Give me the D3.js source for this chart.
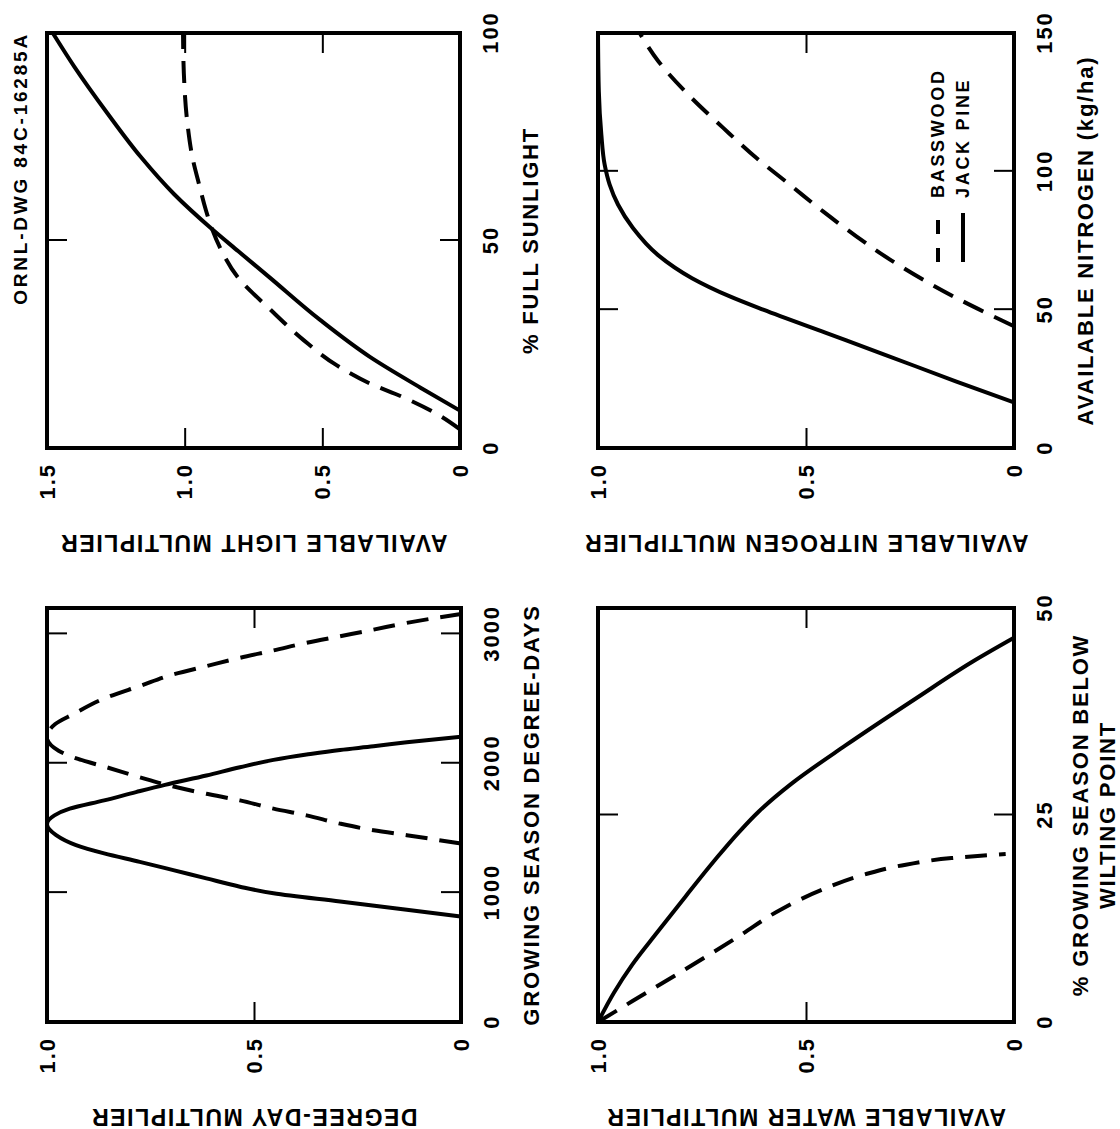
<!DOCTYPE html>
<html>
<head>
<meta charset="utf-8">
<script src="https://cdn.jsdelivr.net/npm/d3@7"></script>
<style>
  body { margin: 0; background: #fff; }
  svg text { font-family: "Liberation Sans", Arial, sans-serif; font-weight: bold; fill: #000; }
</style>
</head>
<body>
<svg id="chart" width="1120" height="1129"></svg>
<script>
// ---- data: [x, multiplier] ----

const lightJackPine = [[9.0,0],[14.6,0.145],[21.9,0.326],[30.8,0.507],[41.3,0.695],[47.4,0.805],[52.7,0.9],
  [61.2,1.039],[70.1,1.159],[80.6,1.28],[91.9,1.401],[100,1.479]];
const lightBasswood = [[4.5,0],[8.2,0.084],[12.2,0.205],[15.5,0.326],[19.9,0.447],[26.0,0.568],[33.3,0.688],
  [41.3,0.809],[47.4,0.865],[52.7,0.9],[57.1,0.922],[63.6,0.948],[70.1,0.972],[78.2,0.99],[90.3,1.003],[100,1.006]];

const nitrogenJackPine = [[16.5,0],[24.1,0.14],[33.7,0.31],[41.6,0.452],[50.0,0.603],[54.8,0.683],[61.4,0.774],
  [69.9,0.857],[79.5,0.916],[88.0,0.952],[95.2,0.972],[102.4,0.984],[113.3,0.992],[128.9,0.998],[150,1.0]];
const nitrogenBasswood = [[44.0,0],[48.2,0.058],[54.2,0.138],[60.8,0.218],[68.1,0.298],[76.5,0.379],[85.5,0.459],
  [95.2,0.539],[104.8,0.619],[115.7,0.699],[127.1,0.779],[139.8,0.855],[150,0.9]];

const degreeDayJackPine = [[815,0],[867,0.131],[931,0.292],[995,0.453],[1046,0.534],[1110,0.615],[1174,0.695],
  [1238,0.776],[1303,0.862],[1367,0.93],[1444,0.978],[1528,1.0],[1597,0.982],[1649,0.945],[1713,0.862],
  [1777,0.785],[1833,0.715],[1905,0.615],[1969,0.534],[2026,0.453],[2067,0.373],[2103,0.292],[2131,0.211],
  [2162,0.131],[2205,0]];
const degreeDayBasswood = [[1379,0],[1444,0.131],[1482,0.211],[1533,0.292],[1597,0.373],[1649,0.453],[1713,0.534],
  [1764,0.615],[1833,0.711],[1892,0.776],[1969,0.856],[2033,0.925],[2097,0.972],[2200,1.0],[2303,0.98],
  [2379,0.937],[2508,0.856],[2597,0.776],[2687,0.695],[2751,0.615],[2815,0.534],[2872,0.453],[2931,0.373],
  [2982,0.292],[3033,0.211],[3085,0.131],[3154,0]];

const waterJackPine = [[0,1.0],[3.6,0.961],[6.9,0.918],[10.8,0.858],[15.2,0.789],[19.5,0.72],[23.0,0.66],
  [25.4,0.614],[28.7,0.537],[33.4,0.405],[39.1,0.235],[43.5,0.1],[46.4,0]];
const waterBasswood = [[0,1.0],[2.5,0.918],[6.4,0.789],[10.4,0.66],[13.6,0.56],[16.0,0.46],[17.8,0.36],
  [19.0,0.26],[19.8,0.15],[20.3,0.02]];

const legendLabels = ["BASSWOOD", "JACK PINE"];
const drawingNumber = "ORNL-DWG 84C-16285A";

// ---- layout ----

const svg = d3.select("#chart");
const PAGE_H = 1129;

// the whole drawing is printed a quarter turn round: its x axes run up the page
const fig = svg.append("g").attr("transform", `translate(0,${PAGE_H}) rotate(-90)`);

const fmtY = d => d === 0 ? "0" : d3.format(".1f")(d);

const panels = [
  { left: 47, right: 460, top: 33, bottom: 448,
    xDomain: [0, 100], xTicks: [0, 50, 100], yDomain: [0, 1.5], yTicks: [0, 0.5, 1, 1.5],
    xTitle: ["% FULL SUNLIGHT"], xTitleAt: [70], yTitle: "AVAILABLE LIGHT MULTIPLIER",
    basswood: lightBasswood, jackPine: lightJackPine },
  { left: 598, right: 1014, top: 33, bottom: 448, legend: true,
    xDomain: [0, 150], xTicks: [0, 50, 100, 150], yDomain: [0, 1], yTicks: [0, 0.5, 1],
    xTitle: ["AVAILABLE NITROGEN (kg/ha)"], xTitleAt: [71], yTitle: "AVAILABLE NITROGEN MULTIPLIER",
    basswood: nitrogenBasswood, jackPine: nitrogenJackPine },
  { left: 47, right: 461, top: 608, bottom: 1022,
    xDomain: [0, 3200], xTicks: [0, 1000, 2000, 3000], yDomain: [0, 1], yTicks: [0, 0.5, 1],
    xTitle: ["GROWING SEASON DEGREE-DAYS"], xTitleAt: [70], yTitle: "DEGREE-DAY MULTIPLIER",
    basswood: degreeDayBasswood, jackPine: degreeDayJackPine },
  { left: 598, right: 1014, top: 608, bottom: 1022,
    xDomain: [0, 50], xTicks: [0, 25, 50], yDomain: [0, 1], yTicks: [0, 0.5, 1],
    xTitle: ["% GROWING SEASON BELOW", "WILTING POINT"], xTitleAt: [66, 93], yTitle: "AVAILABLE WATER MULTIPLIER",
    basswood: waterBasswood, jackPine: waterJackPine }
];

panels.forEach(drawPanel);

function drawPanel(p) {
  const W = p.bottom - p.top;
  const H = p.right - p.left;
  const g = fig.append("g").attr("transform", `translate(${PAGE_H - p.bottom},${p.left})`);

  const x = d3.scaleLinear().domain(p.xDomain).range([0, W]);
  const y = d3.scaleLinear().domain(p.yDomain).range([H, 0]);

  // ticks point inward on all four sides
  g.append("g").attr("transform", `translate(0,${H})`)
    .call(d3.axisBottom(x).tickValues(p.xTicks).tickSize(-20).tickPadding(22).tickFormat(d3.format("d")));
  g.append("g")
    .call(d3.axisTop(x).tickValues(p.xTicks).tickSize(-20).tickFormat(""));
  g.append("g")
    .call(d3.axisLeft(y).tickValues(p.yTicks).tickSize(-20).tickPadding(15).tickFormat(fmtY));
  g.append("g").attr("transform", `translate(${W},0)`)
    .call(d3.axisRight(y).tickValues(p.yTicks).tickSize(-20).tickFormat(""));

  g.selectAll(".domain").remove();
  g.selectAll(".tick line").attr("stroke", "#000").attr("stroke-width", 2);
  g.selectAll(".tick text")
    .attr("font-size", 22)
    .style("letter-spacing", "2px");

  g.append("rect")
    .attr("width", W).attr("height", H)
    .attr("fill", "none").attr("stroke", "#000").attr("stroke-width", 4);

  const line = d3.line()
    .x(d => x(d[0]))
    .y(d => y(d[1]))
    .curve(d3.curveMonotoneX);

  g.append("path")
    .datum(p.jackPine)
    .attr("d", line)
    .attr("fill", "none").attr("stroke", "#000").attr("stroke-width", 4);

  g.append("path")
    .datum(p.basswood)
    .attr("d", line)
    .attr("fill", "none").attr("stroke", "#000").attr("stroke-width", 4)
    .attr("stroke-dasharray", "22,12");

  // axis titles
  p.xTitle.forEach((t, i) => {
    g.append("text")
      .attr("x", W / 2).attr("y", H + p.xTitleAt[i])
      .attr("dy", "0.36em")
      .attr("text-anchor", "middle")
      .attr("font-size", 22)
      .style("letter-spacing", "1.8px")
      .text(t);
  });

  g.append("text")
    .attr("transform", `translate(-95,${H / 2}) rotate(-90)`)
    .attr("dy", "0.36em")
    .attr("text-anchor", "middle")
    .attr("font-size", 23)
    .style("letter-spacing", "1.6px")
    .text(p.yTitle);

  if (p.legend) {
    const lg = g.append("g").attr("transform", "translate(186,340)");
    lg.selectAll("line")
      .data(legendLabels)
      .enter()
      .append("line")
      .attr("x1", 0).attr("x2", (d, i) => i === 0 ? 42 : 49)
      .attr("y1", (d, i) => i * 25).attr("y2", (d, i) => i * 25)
      .attr("stroke", "#000").attr("stroke-width", 4)
      .attr("stroke-dasharray", (d, i) => i === 0 ? "14,14" : null);
    lg.selectAll("text")
      .data(legendLabels)
      .enter()
      .append("text")
      .attr("x", 64)
      .attr("y", (d, i) => i * 25)
      .attr("dy", "0.36em")
      .attr("font-size", 18)
      .style("letter-spacing", "2.7px")
      .text(d => d);
  }
}

// drawing number, top right of the unturned sheet
fig.append("text")
  .attr("x", PAGE_H - 32)
  .attr("y", 20)
  .attr("dy", "0.36em")
  .attr("text-anchor", "end")
  .attr("font-size", 19)
  .style("letter-spacing", "2.8px")
  .text(drawingNumber);
</script>
</body>
</html>
